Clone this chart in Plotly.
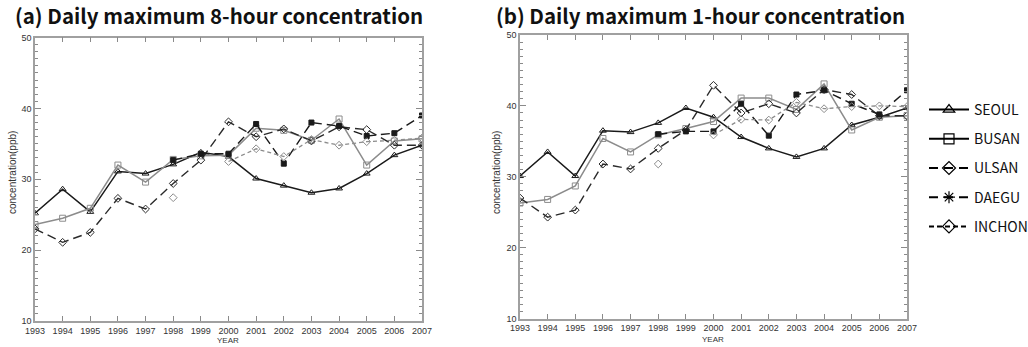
import plotly.graph_objects as go

years = list(range(1993, 2008))
year_labels = [str(y) for y in years]

# (a) Daily maximum 8-hour concentration
a_seoul = [25.2, 28.6, 25.4, 31.1, 30.8, 32.1, 33.8, 33.2, 30.1, 29.1, 28.1, 28.7, 30.8, 33.4, 34.8]
a_busan = [23.6, 24.5, 25.9, 32.0, 29.6, 32.8, 33.3, 33.4, 37.2, 36.9, 35.5, 38.5, 32.0, 35.4, 35.7]
a_ulsan = [23.0, 21.1, 22.5, 27.3, 25.8, 29.4, 32.7, 38.1, 36.0, 37.1, 35.4, 37.4, 37.0, 34.8, 34.8]
a_daegu = [None, None, None, None, None, 32.7, 33.6, 33.6, 37.8, 32.2, 38.0, 37.5, 36.1, 36.5, 39.0]
a_inchon = [None, None, None, None, None, 27.4, None, 32.5, 34.3, 33.2, 35.6, 34.8, 35.3, 35.5, 35.8]

# (b) Daily maximum 1-hour concentration
b_seoul = [30.1, 33.5, 30.1, 36.5, 36.3, 37.6, 39.7, 38.4, 35.6, 34.0, 32.8, 34.0, 37.3, 38.4, 39.7]
b_busan = [26.3, 26.8, 28.7, 35.4, 33.5, 35.9, 36.8, 37.8, 41.1, 41.1, 39.5, 43.1, 36.6, 38.4, 38.6]
b_ulsan = [27.0, 24.3, 25.3, 31.8, 31.1, 34.0, 36.6, 42.9, 39.0, 40.3, 39.0, 42.3, 41.6, 38.6, 38.6]
b_daegu = [None, None, None, None, None, 36.0, 36.4, 36.4, 40.3, 35.8, 41.6, 42.2, 40.3, 38.8, 42.2]
b_inchon = [None, None, None, None, None, 31.8, None, 35.9, 38.1, 38.0, 40.5, 39.6, 39.9, 40.0, 39.9]

cities = ["SEOUL", "BUSAN", "ULSAN", "DAEGU", "INCHON"]
panel_a = [a_seoul, a_busan, a_ulsan, a_daegu, a_inchon]
panel_b = [b_seoul, b_busan, b_ulsan, b_daegu, b_inchon]

styles = {
    "SEOUL": dict(color="#1a1a1a", dash="solid", symbol="triangle-up-open", msize=6, width=1.5),
    "BUSAN": dict(color="#8c8c8c", dash="solid", symbol="square-open", msize=6, width=1.5),
    "ULSAN": dict(color="#2a2a2a", dash="9px,5px", symbol="diamond-open", msize=6, width=1.4),
    "DAEGU": dict(color="#1a1a1a", dash="9px,5px", symbol="square", msize=5, width=1.4),
    "INCHON": dict(color="#8c8c8c", dash="4px,3px", symbol="diamond-open", msize=6, width=1.3),
}
legend_styles = {
    "SEOUL": dict(dash="solid", symbol="triangle-up-open"),
    "BUSAN": dict(dash="solid", symbol="square-open"),
    "ULSAN": dict(dash="9px,6px", symbol="diamond-open"),
    "DAEGU": dict(dash="9px,6px", symbol="asterisk-open"),
    "INCHON": dict(dash="5px,3px", symbol="diamond-open"),
}

fig = go.Figure()
for axis_suffix, panel in (("", panel_a), ("2", panel_b)):
    for city, vals in zip(cities, panel):
        s = styles[city]
        fig.add_trace(go.Scatter(
            x=years, y=vals, mode="lines+markers", name=city, showlegend=False,
            xaxis="x" + axis_suffix, yaxis="y" + axis_suffix,
            line=dict(color=s["color"], dash=s["dash"], width=s["width"]),
            marker=dict(symbol=s["symbol"], size=s["msize"], color=s["color"],
                        line=dict(color=s["color"], width=1)),
            connectgaps=False,
        ))

for i, city in enumerate(cities):
    ls = legend_styles[city]
    fig.add_trace(go.Scatter(
        x=[None], y=[None], mode="lines+markers", name=city, showlegend=True,
        legendgroup=city, xaxis="x2", yaxis="y2",
        line=dict(color="black", dash=ls["dash"], width=2),
        marker=dict(symbol=ls["symbol"], size=10, color="black", line=dict(color="black", width=1.2)),
    ))

W, H = 1028, 347
def px_x(p):
    return p / W
def px_y(p):
    return 1 - p / H

axis_common = dict(
    showline=True, linecolor="#a0a0a0", linewidth=1.5, mirror="allticks",
    ticks="inside", tickcolor="#8a8a8a", showgrid=False, zeroline=False, automargin=False,
    tickfont=dict(family="Liberation Sans", size=9, color="#333333"),
)
xaxis_common = dict(axis_common, range=[1993, 2007], tickvals=years, ticktext=year_labels, ticklen=5)
yaxis_common = dict(axis_common, range=[10, 50], dtick=10, tick0=10, ticklen=6,
                    minor=dict(dtick=1, ticks="inside", ticklen=3, tickcolor="#8a8a8a"))

fig.update_layout(
    width=W, height=H, margin=dict(l=0, r=0, t=0, b=0, pad=0, autoexpand=False),
    paper_bgcolor="white", plot_bgcolor="white",
    xaxis=dict(xaxis_common, domain=[px_x(35), px_x(422)], anchor="y"),
    yaxis=dict(yaxis_common, domain=[px_y(321), px_y(37.5)], anchor="x"),
    xaxis2=dict(xaxis_common, domain=[px_x(520), px_x(907)], anchor="y2"),
    yaxis2=dict(yaxis_common, domain=[px_y(318.5), px_y(35)], anchor="x2"),
    legend=dict(x=px_x(924), y=px_y(94), xanchor="left", yanchor="top",
                font=dict(family="Noto Sans CJK KR", size=14, color="#111111"),
                tracegroupgap=8, bgcolor="rgba(0,0,0,0)", itemwidth=40),
    showlegend=True,
)

title_font = dict(family="Noto Sans CJK KR", size=20.5, color="#111111", weight="bold")
fig.add_annotation(text="(a) Daily maximum 8-hour concentration", x=px_x(13), y=px_y(15),
                   xref="paper", yref="paper", xanchor="left", yanchor="middle",
                   showarrow=False, font=title_font)
fig.add_annotation(text="(b) Daily maximum 1-hour concentration", x=px_x(494), y=px_y(15),
                   xref="paper", yref="paper", xanchor="left", yanchor="middle",
                   showarrow=False, font=title_font)

small = dict(family="Liberation Sans", size=8, color="#333333")
ylab = dict(family="Liberation Sans", size=10, color="#333333")
fig.add_annotation(text="YEAR", x=px_x(228), y=px_y(340), xref="paper", yref="paper",
                   showarrow=False, font=small, xanchor="center", yanchor="middle")
fig.add_annotation(text="YEAR", x=px_x(713), y=px_y(339), xref="paper", yref="paper",
                   showarrow=False, font=small, xanchor="center", yanchor="middle")
fig.add_annotation(text="concentration(ppb)", x=px_x(12), y=px_y(173), xref="paper", yref="paper",
                   showarrow=False, font=ylab, textangle=-90, xanchor="center", yanchor="middle")
fig.add_annotation(text="concentration(ppb)", x=px_x(496), y=px_y(173), xref="paper", yref="paper",
                   showarrow=False, font=ylab, textangle=-90, xanchor="center", yanchor="middle")

fig.write_html("out.html", config={"displayModeBar": False},
               post_script="document.body.style.margin='0';document.body.style.padding='0';")
